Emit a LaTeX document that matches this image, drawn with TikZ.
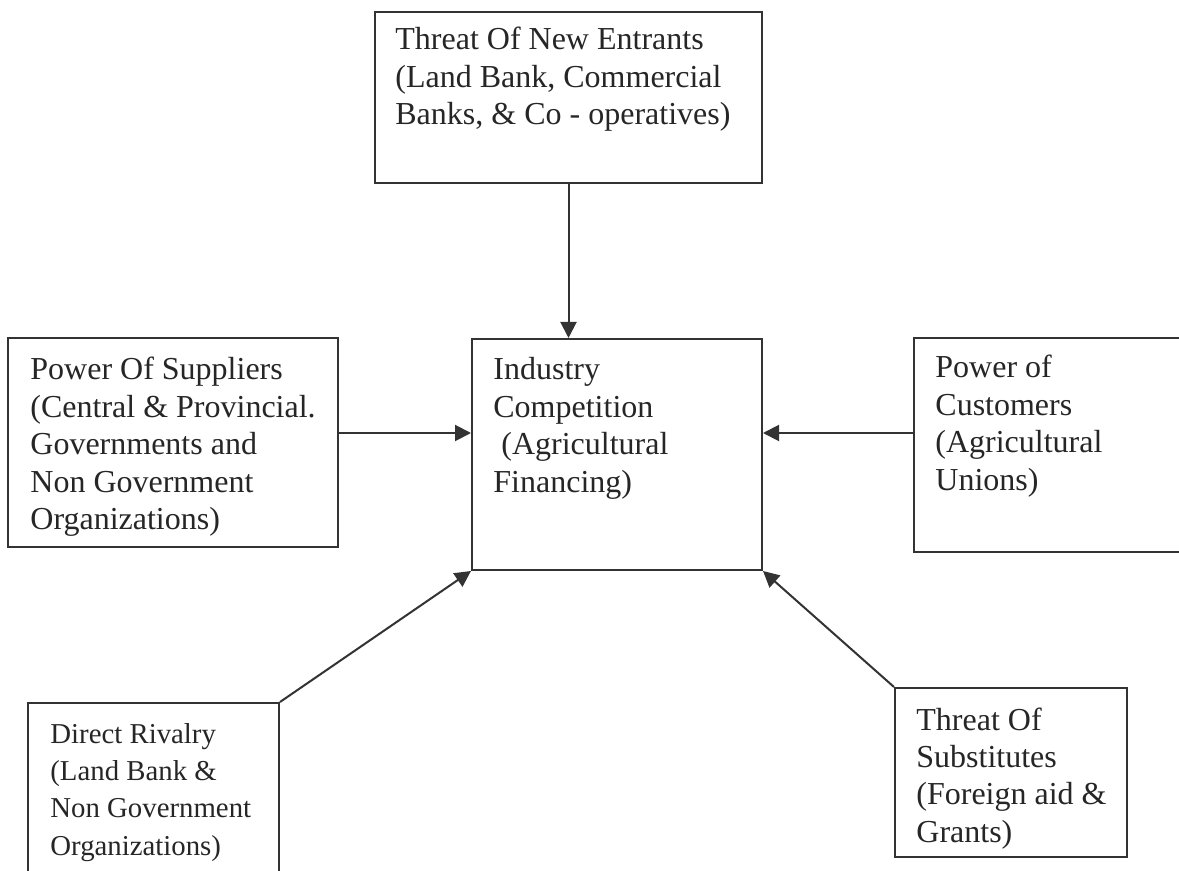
\documentclass[tikz,border=0pt]{standalone}
\usepackage{fontspec}
\setmainfont{Liberation Serif}
\usetikzlibrary{arrows.meta}
\newcommand{\boxtext}[1]{\begin{tabular}[t]{@{}l@{}}#1\end{tabular}}
\begin{document}
\begin{tikzpicture}[x=0.5pt,y=-0.5pt,
  frame/.style={draw=black!80, line width=1pt, rectangle, inner sep=0pt},
  label/.style={anchor=base west, inner sep=0pt, text=black!85,
    font=\fontsize{16}{18.7}\selectfont},
  small/.style={label, font=\fontsize{14.4}{18.7}\selectfont},
  link/.style={draw=black!80, line width=1pt,
    -{Triangle[length=8pt,width=8pt]}}]
\useasboundingbox (0,0) rectangle (1179,871);
\fill[white] (0,0) rectangle (1179,871);

% boxes
\node[frame, minimum width=193.5pt, minimum height=85.5pt]  (entr) at (568.5,97.5) {};
\node[frame, minimum width=145pt,   minimum height=115.5pt] (ind)  at (617,454.5) {};
\node[frame, minimum width=165pt,   minimum height=104.5pt] (supp) at (173,442.5) {};
\node[frame, minimum width=133.5pt, minimum height=107pt]   (cust) at (1047.5,445) {};
\node[frame, minimum width=125.5pt, minimum height=88.5pt]  (riv)  at (153.5,791.5) {};
\node[frame, minimum width=116pt,   minimum height=84.5pt]  (subs) at (1011,772.5) {};

% texts
\node[label] (tentr) at (395,50)  {\boxtext{Threat Of New Entrants\\(Land Bank, Commercial\\Banks, \& Co - operatives)}};
\node[label] (tind)  at (493,380) {\boxtext{Industry\\Competition\\\hspace*{0.25em}(Agricultural\\Financing)}};
\node[label] (tsupp) at (30,380)  {\boxtext{Power Of Suppliers\\(Central \& Provincial.\\Governments and\\Non Government\\Organizations)}};
\node[label] (tcust) at (935,378) {\boxtext{Power of\\Customers\\(Agricultural\\Unions)}};
\node[small] (triv)  at (50,743)  {\boxtext{Direct Rivalry\\(Land Bank \&\\Non Government\\Organizations)}};
\node[label] (tsubs) at (916,730) {\boxtext{Threat Of\\Substitutes\\(Foreign aid \&\\Grants)}};

% connectors
\coordinate (mid) at (0,433);
\draw[link] (entr.south) -- (entr.south |- ind.north);
\draw[link] (supp.east |- mid) -- (ind.west |- mid);
\draw[link] (cust.west |- mid) -- (ind.east |- mid);
\draw[link] (riv.north east) -- (ind.south west);
\draw[link] (subs.north west) -- (ind.south east);
\end{tikzpicture}
\end{document}
